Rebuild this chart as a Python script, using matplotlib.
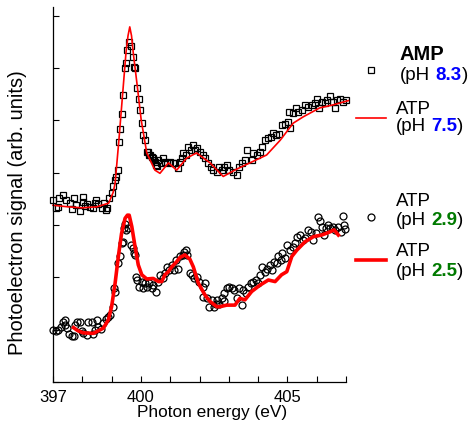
import matplotlib
matplotlib.use("Agg")
import matplotlib.pyplot as plt
from matplotlib.lines import Line2D

plt.rcParams['font.family'] = ['Liberation Sans', 'DejaVu Sans']

# AMP pH 8.3 (squares)
amp_x = [397.01, 397.10, 397.18, 397.20, 397.35, 397.45, 397.58, 397.65, 397.72, 397.78,
         397.92, 398.01, 398.02, 398.10, 398.17, 398.26, 398.35, 398.42, 398.47, 398.55,
         398.66, 398.74, 398.80, 398.85, 398.92, 399.00, 399.06, 399.12, 399.15, 399.21,
         399.25, 399.29, 399.35, 399.39, 399.46, 399.49, 399.54, 399.60, 399.65, 399.72,
         399.77, 399.80, 399.88, 399.92, 399.97, 400.03, 400.07, 400.14, 400.20, 400.25,
         400.29, 400.31, 400.37, 400.40, 400.45, 400.48, 400.52, 400.54, 400.59, 400.68,
         400.74, 400.82, 400.90, 400.99, 401.08, 401.16, 401.28, 401.33, 401.39, 401.45,
         401.54, 401.62, 401.70, 401.77, 401.85, 401.92, 402.02, 402.11, 402.19, 402.30,
         402.38, 402.47, 402.59, 402.68, 402.76, 402.84, 402.93, 403.02, 403.13, 403.27,
         403.36, 403.44, 403.55, 403.63, 403.78, 403.84, 403.95, 404.06, 404.15, 404.23,
         404.35, 404.43, 404.52, 404.61, 404.72, 404.83, 404.92, 405.03, 405.09, 405.05,
         405.18, 405.29, 405.37, 405.49, 405.60, 405.71, 405.83, 405.94, 406.02, 406.09,
         406.17, 406.28, 406.36, 406.45, 406.54, 406.62, 406.70, 406.80, 406.89, 407.00]
amp_y = [3.48, 3.33, 3.35, 3.52, 3.58, 3.48, 3.42, 3.30, 3.52, 3.38,
         3.26, 3.45, 3.54, 3.36, 3.40, 3.35, 3.32, 3.42, 3.48, 3.40,
         3.32, 3.42, 3.28, 3.32, 3.52, 3.61, 3.75, 3.86, 3.92, 4.05,
         4.58, 4.83, 5.12, 5.48, 6.00, 6.09, 6.35, 6.51, 6.42, 6.21,
         6.03, 6.00, 5.62, 5.41, 5.20, 4.96, 4.72, 4.63, 4.40, 4.40,
         4.34, 4.34, 4.31, 4.28, 4.24, 4.21, 4.15, 4.13, 4.24, 4.18,
         4.28, 4.21, 4.18, 4.21, 4.18, 4.19, 4.09, 4.21, 4.28, 4.37,
         4.34, 4.50, 4.44, 4.53, 4.44, 4.47, 4.40, 4.34, 4.28, 4.18,
         4.12, 4.05, 4.02, 4.12, 4.05, 4.12, 4.15, 4.05, 4.02, 3.96,
         4.12, 4.18, 4.24, 4.44, 4.24, 4.37, 4.34, 4.40, 4.50, 4.63,
         4.66, 4.69, 4.77, 4.72, 4.75, 4.91, 4.94, 4.98, 4.85, 5.17,
         5.14, 5.23, 5.17, 5.20, 5.30, 5.26, 5.30, 5.33, 5.42, 5.23,
         5.36, 5.33, 5.39, 5.46, 5.36, 5.23, 5.39, 5.42, 5.36, 5.39]

# ATP pH 7.5 (thin red line)
atp75_x = [397.0, 397.5, 398.0, 398.5, 398.9, 399.05, 399.12, 399.25, 399.38, 399.49,
           399.56, 399.62, 399.68, 399.74, 399.88, 400.01, 400.2, 400.48, 400.65, 400.94,
           401.22, 401.56, 401.9, 402.36, 402.81, 403.27, 403.72, 404.29, 404.75, 405.2,
           405.54, 406.1, 406.57, 407.08]
atp75_y = [3.38, 3.35, 3.33, 3.35, 3.42, 3.62, 3.80, 4.63, 5.53, 6.29,
           6.62, 6.79, 6.62, 6.29, 5.64, 5.01, 4.38, 4.05, 3.99, 4.19,
           4.05, 4.28, 4.38, 4.19, 3.93, 4.07, 4.19, 4.34, 4.62, 4.95,
           5.07, 5.24, 5.30, 5.38]

# ATP pH 2.9 (circles)
atp29_x = [397.01, 397.10, 397.18, 397.26, 397.33, 397.41, 397.42, 397.49, 397.56, 397.64,
           397.70, 397.75, 397.81, 397.92, 397.98, 398.03, 398.15, 398.20, 398.32, 398.35,
           398.43, 398.49, 398.55, 398.63, 398.72, 398.81, 398.89, 398.95, 399.06, 399.09,
           399.12, 399.23, 399.29, 399.34, 399.38, 399.42, 399.46, 399.49, 399.57, 399.65,
           399.72, 399.76, 399.80, 399.83, 399.88, 399.94, 400.03, 400.08, 400.14, 400.22,
           400.29, 400.37, 400.42, 400.52, 400.59, 400.65, 400.74, 400.82, 400.90, 400.96,
           401.05, 401.13, 401.19, 401.28, 401.33, 401.42, 401.47, 401.54, 401.58, 401.67,
           401.73, 401.81, 401.90, 401.99, 402.11, 402.19, 402.11, 402.24, 402.33, 402.42,
           402.50, 402.56, 402.59, 402.68, 402.76, 402.82, 402.84, 402.93, 403.02, 403.10,
           403.18, 403.27, 403.36, 403.44, 403.50, 403.59, 403.67, 403.75, 403.84, 403.93,
           404.01, 404.06, 404.15, 404.23, 404.31, 404.40, 404.46, 404.54, 404.63, 404.69,
           404.77, 404.83, 404.91, 404.99, 405.09, 405.18, 405.26, 405.34, 405.43, 405.52,
           405.60, 405.71, 405.79, 405.88, 405.97, 406.05, 406.10, 406.19, 406.24, 406.33,
           406.38, 406.46, 406.55, 406.64, 406.72, 406.82, 406.89, 406.93, 406.97]
atp29_y = [0.99, 0.98, 0.99, 1.06, 1.15, 1.19, 1.09, 1.03, 0.91, 0.87,
           0.87, 1.09, 1.15, 1.15, 0.98, 0.93, 0.90, 1.15, 1.15, 0.91,
           0.99, 1.19, 1.06, 1.01, 1.12, 1.20, 1.25, 1.28, 1.44, 1.79,
           1.73, 2.27, 2.40, 2.65, 2.68, 2.94, 3.03, 2.91, 2.94, 2.62,
           2.56, 2.46, 2.43, 2.01, 1.95, 1.82, 1.92, 1.79, 1.89, 1.82,
           1.89, 1.79, 1.85, 1.73, 1.92, 2.05, 1.98, 2.08, 2.20, 2.14,
           2.24, 2.14, 2.33, 2.17, 2.40, 2.43, 2.49, 2.52, 2.43, 2.09,
           2.05, 1.98, 2.01, 1.92, 1.82, 1.89, 1.63, 1.60, 1.44, 1.57,
           1.44, 1.50, 1.57, 1.50, 1.60, 1.70, 1.54, 1.79, 1.82, 1.79,
           1.76, 1.60, 1.79, 1.47, 1.76, 1.70, 1.82, 1.89, 1.92, 1.95,
           1.89, 2.05, 2.20, 2.11, 2.17, 2.24, 2.14, 2.30, 2.27, 2.40,
           2.33, 2.46, 2.37, 2.62, 2.52, 2.59, 2.65, 2.78, 2.81, 2.71,
           2.75, 2.91, 2.87, 2.71, 2.84, 3.16, 3.07, 2.97, 2.81, 2.94,
           3.00, 2.94, 2.97, 2.91, 2.97, 2.87, 3.17, 3.00, 2.92]

# ATP pH 2.5 (thick red line)
atp25_x = [397.70, 397.85, 398.03, 398.38, 398.72, 398.89, 399.00, 399.12, 399.23, 399.34,
           399.46, 399.54, 399.60, 399.69, 399.80, 399.91, 400.03, 400.20, 400.42, 400.60,
           400.71, 400.82, 400.94, 401.05, 401.22, 401.33, 401.50, 401.67, 401.79, 401.96,
           402.19, 402.36, 402.59, 402.70, 402.93, 403.21, 403.38, 403.55, 403.78, 404.06,
           404.35, 404.58, 404.80, 404.98, 405.15, 405.32, 405.60, 405.89, 406.17, 406.45,
           406.59, 406.74]
atp25_y = [1.04, 0.98, 0.94, 0.93, 1.03, 1.19, 1.44, 1.89, 2.40, 2.84,
           3.13, 3.19, 3.19, 2.97, 2.59, 2.24, 2.05, 1.97, 1.98, 1.92,
           1.92, 2.05, 2.11, 2.20, 2.30, 2.38, 2.43, 2.35, 2.20, 1.89,
           1.66, 1.54, 1.44, 1.44, 1.47, 1.47, 1.60, 1.57, 1.73, 1.85,
           1.95, 1.92, 2.05, 2.11, 2.40, 2.52, 2.68, 2.78, 2.81, 2.87,
           2.91, 2.81]

xticks = list(range(397, 408))
xticklabels = ['397' if t == 397 else '400' if t == 400 else '405' if t == 405 else '' for t in xticks]

W, H = 471, 432
fig = plt.figure(figsize=(W / 100, H / 100), dpi=100)
ax = fig.add_axes([53 / W, 1 - 382 / H, (346 - 53) / W, (382 - 7) / H])

ax.plot(amp_x, amp_y, ls='none', marker='s', ms=5, mfc='none', mec='black', mew=0.9, clip_on=False)
ax.plot(atp29_x, atp29_y, ls='none', marker='o', ms=5, mfc='none', mec='black', mew=0.9, clip_on=False)
ax.plot(atp75_x, atp75_y, color='red', lw=1.2, clip_on=False)
ax.plot(atp25_x, atp25_y, color='red', lw=2.6, clip_on=False)

ax.set_xlim(397, 407)
ax.set_ylim(0, 7.17)
ax.set_xticks(xticks)
ax.set_xticklabels(xticklabels, fontsize=12)
ax.set_yticks(range(0, 8))
ax.set_yticklabels([])
ax.tick_params(direction='in', length=4, width=0.8)
ax.tick_params(axis='x', pad=6)
for s in ['top', 'right']:
    ax.spines[s].set_visible(False)
for s in ['left', 'bottom']:
    ax.spines[s].set_linewidth(0.9)

fig.text(212 / W, 1 - 413 / H, 'Photon energy (eV)', ha='center', va='center', fontsize=12.4)
fig.text(18 / W, 1 - 213 / H, 'Photoelectron signal (arb. units)', ha='center', va='center',
         rotation=90, fontsize=14.5)

# legend drawn by hand, outside the axes
renderer = fig.canvas.get_renderer()


def textw(s, size, weight='normal'):
    t = fig.text(0, 0, s, fontsize=size, fontweight=weight)
    w = t.get_window_extent(renderer=renderer).width
    t.remove()
    return w


def rich(xpx, ypx, parts, size=13.5):
    sp = textw('a a', size) - textw('aa', size)
    for s, c, w in parts:
        if s == ' ':
            xpx += sp
            continue
        t = fig.text(xpx / W, 1 - ypx / H, s, color=c, fontweight=w, fontsize=size,
                     ha='left', va='center')
        xpx += t.get_window_extent(renderer=renderer).width


fig.add_artist(Line2D([371 / W], [1 - 70 / H], marker='s', ms=5, mfc='none', mec='black', mew=0.9))
fig.add_artist(Line2D([356 / W, 386 / W], [1 - 117.5 / H] * 2, color='red', lw=1.2))
fig.add_artist(Line2D([371 / W], [1 - 217 / H], marker='o', ms=5, mfc='none', mec='black', mew=0.9))
fig.add_artist(Line2D([356 / W, 386 / W], [1 - 260 / H] * 2, color='red', lw=2.6))

blue = '#0000ff'
green = '#007a00'
rich(400, 54, [('AMP', 'black', 'bold')], size=14.5)
rich(400, 75, [('(pH', 'black', 'normal'), (' ', None, None), ('8.3', blue, 'bold'), (')', 'black', 'normal')])
rich(396, 110, [('ATP', 'black', 'normal')])
rich(396, 127, [('(pH', 'black', 'normal'), (' ', None, None), ('7.5', blue, 'bold'), (')', 'black', 'normal')])
rich(396, 202, [('ATP', 'black', 'normal')])
rich(396, 220, [('(pH', 'black', 'normal'), (' ', None, None), ('2.9', green, 'bold'), (')', 'black', 'normal')])
rich(396, 251, [('ATP', 'black', 'normal')])
rich(396, 271, [('(pH', 'black', 'normal'), (' ', None, None), ('2.5', green, 'bold'), (')', 'black', 'normal')])

fig.savefig('out.png', dpi=100)
